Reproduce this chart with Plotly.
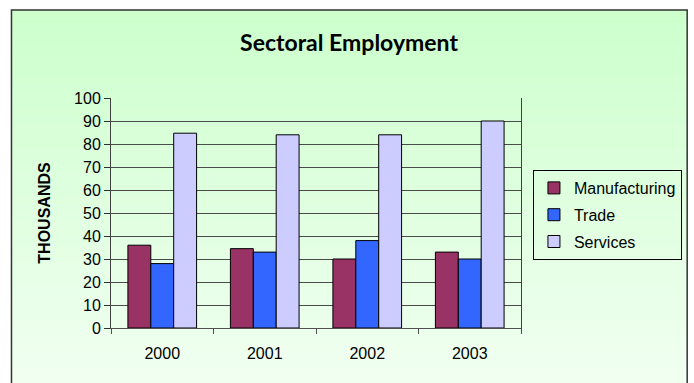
import plotly.graph_objects as go

years = ["2000", "2001", "2002", "2003"]
manufacturing = [36, 34.5, 30, 33]
trade = [28, 33, 38, 30]
services = [84.7, 84, 84, 90]
series_names = ["Manufacturing", "Trade", "Services"]
series_colors = ["#993366", "#3366FF", "#CCCCFF"]
y_ticks = list(range(0, 101, 10))

W, H = 694, 383
L, R, T, B = 111, 523, 98, 328  # plot area in px


def px_to_paper_x(px):
    return (px - L) / (R - L)


def px_to_paper_y(py):
    return (B - py) / (B - T)


fig = go.Figure()
for name, vals, col in zip(series_names, [manufacturing, trade, services], series_colors):
    fig.add_trace(go.Bar(
        x=years, y=vals, name=name, legendgroup=name,
        marker=dict(color=col, line=dict(color="black", width=1)),
    ))

# gradient background strips
shapes = []
top_px, bot_px = 10, 400
N = 48
c0 = (204, 255, 204)
c1 = (243, 255, 243)
for i in range(N):
    y0 = top_px + (bot_px - top_px) * i / N
    y1 = top_px + (bot_px - top_px) * (i + 1) / N
    t = (i + 0.5) / N
    c = tuple(round(a + (b - a) * t) for a, b in zip(c0, c1))
    shapes.append(dict(
        type="rect", xref="paper", yref="paper", layer="below",
        x0=px_to_paper_x(11), x1=px_to_paper_x(690),
        y0=px_to_paper_y(y1 + 0.5), y1=px_to_paper_y(y0),
        fillcolor="rgb(%d,%d,%d)" % c, line=dict(width=0),
    ))
shapes.append(dict(
    type="rect", xref="paper", yref="paper", layer="above",
    x0=px_to_paper_x(11), x1=px_to_paper_x(690),
    y0=px_to_paper_y(bot_px), y1=px_to_paper_y(10),
    fillcolor="rgba(0,0,0,0)", line=dict(color="#333333", width=1.5),
))

fig.update_layout(
    width=W, height=H,
    margin=dict(l=L, r=W - R, t=T, b=H - B),
    paper_bgcolor="white",
    plot_bgcolor="rgba(0,0,0,0)",
    barmode="group", bargap=0.33, bargroupgap=0,
    font=dict(family="Liberation Sans, Arial", size=16, color="black"),
    title=dict(
        text="<b>Sectoral Employment</b>",
        font=dict(family="Lato", size=23, color="black"),
        x=349 / W, xanchor="center", xref="container",
        y=1 - 43 / H, yanchor="middle", yref="container",
    ),
    shapes=shapes,
    legend=dict(
        x=px_to_paper_x(535), y=px_to_paper_y(170),
        xanchor="left", yanchor="top",
        bordercolor="black", borderwidth=1, bgcolor="rgba(0,0,0,0)",
        font=dict(family="Liberation Sans, Arial", size=16),
        tracegroupgap=3, traceorder="grouped", itemwidth=30,
    ),
    xaxis=dict(
        showline=True, linecolor="#505050", linewidth=1,
        ticks="outside", tickson="boundaries", ticklen=5, tickcolor="#505050",
        ticklabelstandoff=11,
        showgrid=False,
    ),
    yaxis=dict(
        range=[0, 100], tickvals=y_ticks,
        showline=True, linecolor="#404040", linewidth=1, mirror=True,
        ticks="outside", ticklen=6, tickcolor="#303030",
        showgrid=True, gridcolor="#4a4a4a", gridwidth=1,
        zeroline=False,
        title=dict(text="<b>THOUSANDS</b>", standoff=19,
                   font=dict(family="Liberation Sans, Arial", size=16)),
    ),
)

fig.write_html(
    "out.html",
    config={"displayModeBar": False},
    post_script="document.body.style.margin='0';document.body.style.overflow='hidden';",
)
